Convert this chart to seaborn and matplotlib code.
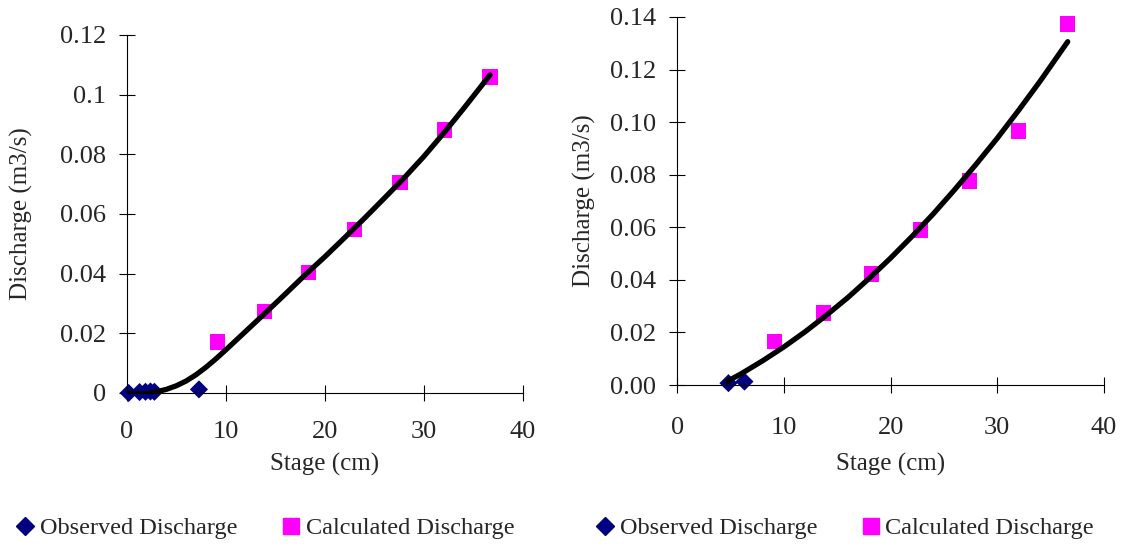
import matplotlib
matplotlib.use("Agg")
import matplotlib.pyplot as plt
from matplotlib.lines import Line2D
import seaborn as sns
import pandas as pd

# left panel
obs_stage_a = [0.2, 1.3, 1.9, 2.4, 2.8, 7.3]
obs_q_a = [0.0, 0.0003, 0.0004, 0.0005, 0.0004, 0.0012]
calc_stage_a = [9.2, 13.9, 18.4, 23.0, 27.6, 32.1, 36.7]
calc_q_a = [0.0171, 0.0272, 0.0403, 0.0548, 0.0706, 0.0881, 0.1059]
fit_stage_a = [0.2, 1, 2, 3, 4, 5, 6, 7, 8, 9, 10, 12, 14, 16, 18, 20, 22, 24, 26, 28, 30, 32, 34, 36.7]
fit_q_a = [0.0, -0.0003, -0.0002, 0.0004, 0.0012, 0.0024, 0.0040, 0.0061, 0.0086, 0.0114, 0.0144,
           0.0206, 0.0268, 0.0331, 0.0395, 0.0456, 0.0520, 0.0585, 0.0652, 0.0720, 0.0792,
           0.0870, 0.0952, 0.1066]
yticks_a = [0, 0.02, 0.04, 0.06, 0.08, 0.1, 0.12]
ylabels_a = ["0", "0.02", "0.04", "0.06", "0.08", "0.1", "0.12"]

# right panel
obs_stage_b = [4.8, 6.3]
obs_q_b = [0.0007, 0.0013]
calc_stage_b = [9.1, 13.7, 18.2, 22.8, 27.4, 32.0, 36.6]
calc_q_b = [0.0164, 0.0274, 0.0422, 0.059, 0.0776, 0.0966, 0.1373]
fit_stage_b = [4.65, 6, 8, 10, 12, 14, 16, 18, 20, 22, 24, 26, 28, 30, 32, 34, 36.6]
fit_q_b = [0.0013, 0.0043, 0.0092, 0.0145, 0.0203, 0.0266, 0.0333, 0.0406, 0.0483, 0.0565,
           0.0651, 0.0743, 0.0839, 0.0939, 0.1045, 0.1155, 0.1306]
yticks_b = [0, 0.02, 0.04, 0.06, 0.08, 0.10, 0.12, 0.14]
ylabels_b = ["0.00", "0.02", "0.04", "0.06", "0.08", "0.10", "0.12", "0.14"]

xticks = [0, 10, 20, 30, 40]

sns.set_style("white")
plt.rcParams["font.family"] = ["Liberation Serif", "DejaVu Serif"]
plt.rcParams["font.size"] = 18

navy = "#000080"
magenta = "#FF00FF"

fig = plt.figure(figsize=(11.28, 5.5), dpi=100)
ax1 = fig.add_axes([0.1123, 0.2855, 0.3511, 0.651])
ax2 = fig.add_axes([0.6004, 0.30, 0.3783, 0.6691])

panels = [
    (ax1, obs_stage_a, obs_q_a, calc_stage_a, calc_q_a, fit_stage_a, fit_q_a, yticks_a, ylabels_a, 0.12, 14, 7, 19),
    (ax2, obs_stage_b, obs_q_b, calc_stage_b, calc_q_b, fit_stage_b, fit_q_b, yticks_b, ylabels_b, 0.14, 17, 10, 10),
]

for ax, os_, oq, cs, cq, fs, fq, yt, yl, ymax, xpad, xlpad, ylpad in panels:
    fit = pd.DataFrame({"Stage": fs, "Q": fq})
    sns.lineplot(data=fit, x="Stage", y="Q", color="black", linewidth=3.8,
                 estimator=None, sort=False, ax=ax, zorder=3, solid_capstyle="round",
                 solid_joinstyle="round")
    sns.scatterplot(x=cs, y=cq, marker="s", s=120, color=magenta, edgecolor="none",
                    ax=ax, zorder=2, clip_on=False)
    sns.scatterplot(x=os_, y=oq, marker="D", s=85, color=navy, edgecolor="none",
                    ax=ax, zorder=2, clip_on=False)
    ax.set_xlim(0, 40)
    ax.set_ylim(0, ymax)
    ax.set_xticks(xticks)
    ax.set_xticklabels([str(t) for t in xticks])
    ax.set_yticks(yt)
    ax.set_yticklabels(yl)
    ax.tick_params(direction="inout", length=12, width=0.8, color="black",
                   labelsize=19, left=True, bottom=True)
    ax.tick_params(axis="x", pad=xpad)
    ax.tick_params(axis="y", pad=9)
    for side in ["top", "right"]:
        ax.spines[side].set_visible(False)
    for side in ["left", "bottom"]:
        ax.spines[side].set_color("black")
        ax.spines[side].set_linewidth(0.8)
    ax.set_xlabel("Stage (cm)", fontsize=18, labelpad=xlpad)
    ax.set_ylabel("Discharge (m3/s)", fontsize=18, labelpad=ylpad)

handles = [
    Line2D([], [], marker="D", linestyle="none", color=navy, markersize=9),
    Line2D([], [], marker="s", linestyle="none", color=magenta, markersize=11),
]
labels = ["Observed Discharge", "Calculated Discharge"]
for cx in [0.236, 0.750]:
    fig.legend(handles, labels, loc="center", bbox_to_anchor=(cx, 0.04), ncol=2,
               frameon=False, fontsize=17.5, handlelength=0.6, handletextpad=0.3,
               columnspacing=1.9)

fig.savefig("out.png", dpi=100, facecolor="w")
